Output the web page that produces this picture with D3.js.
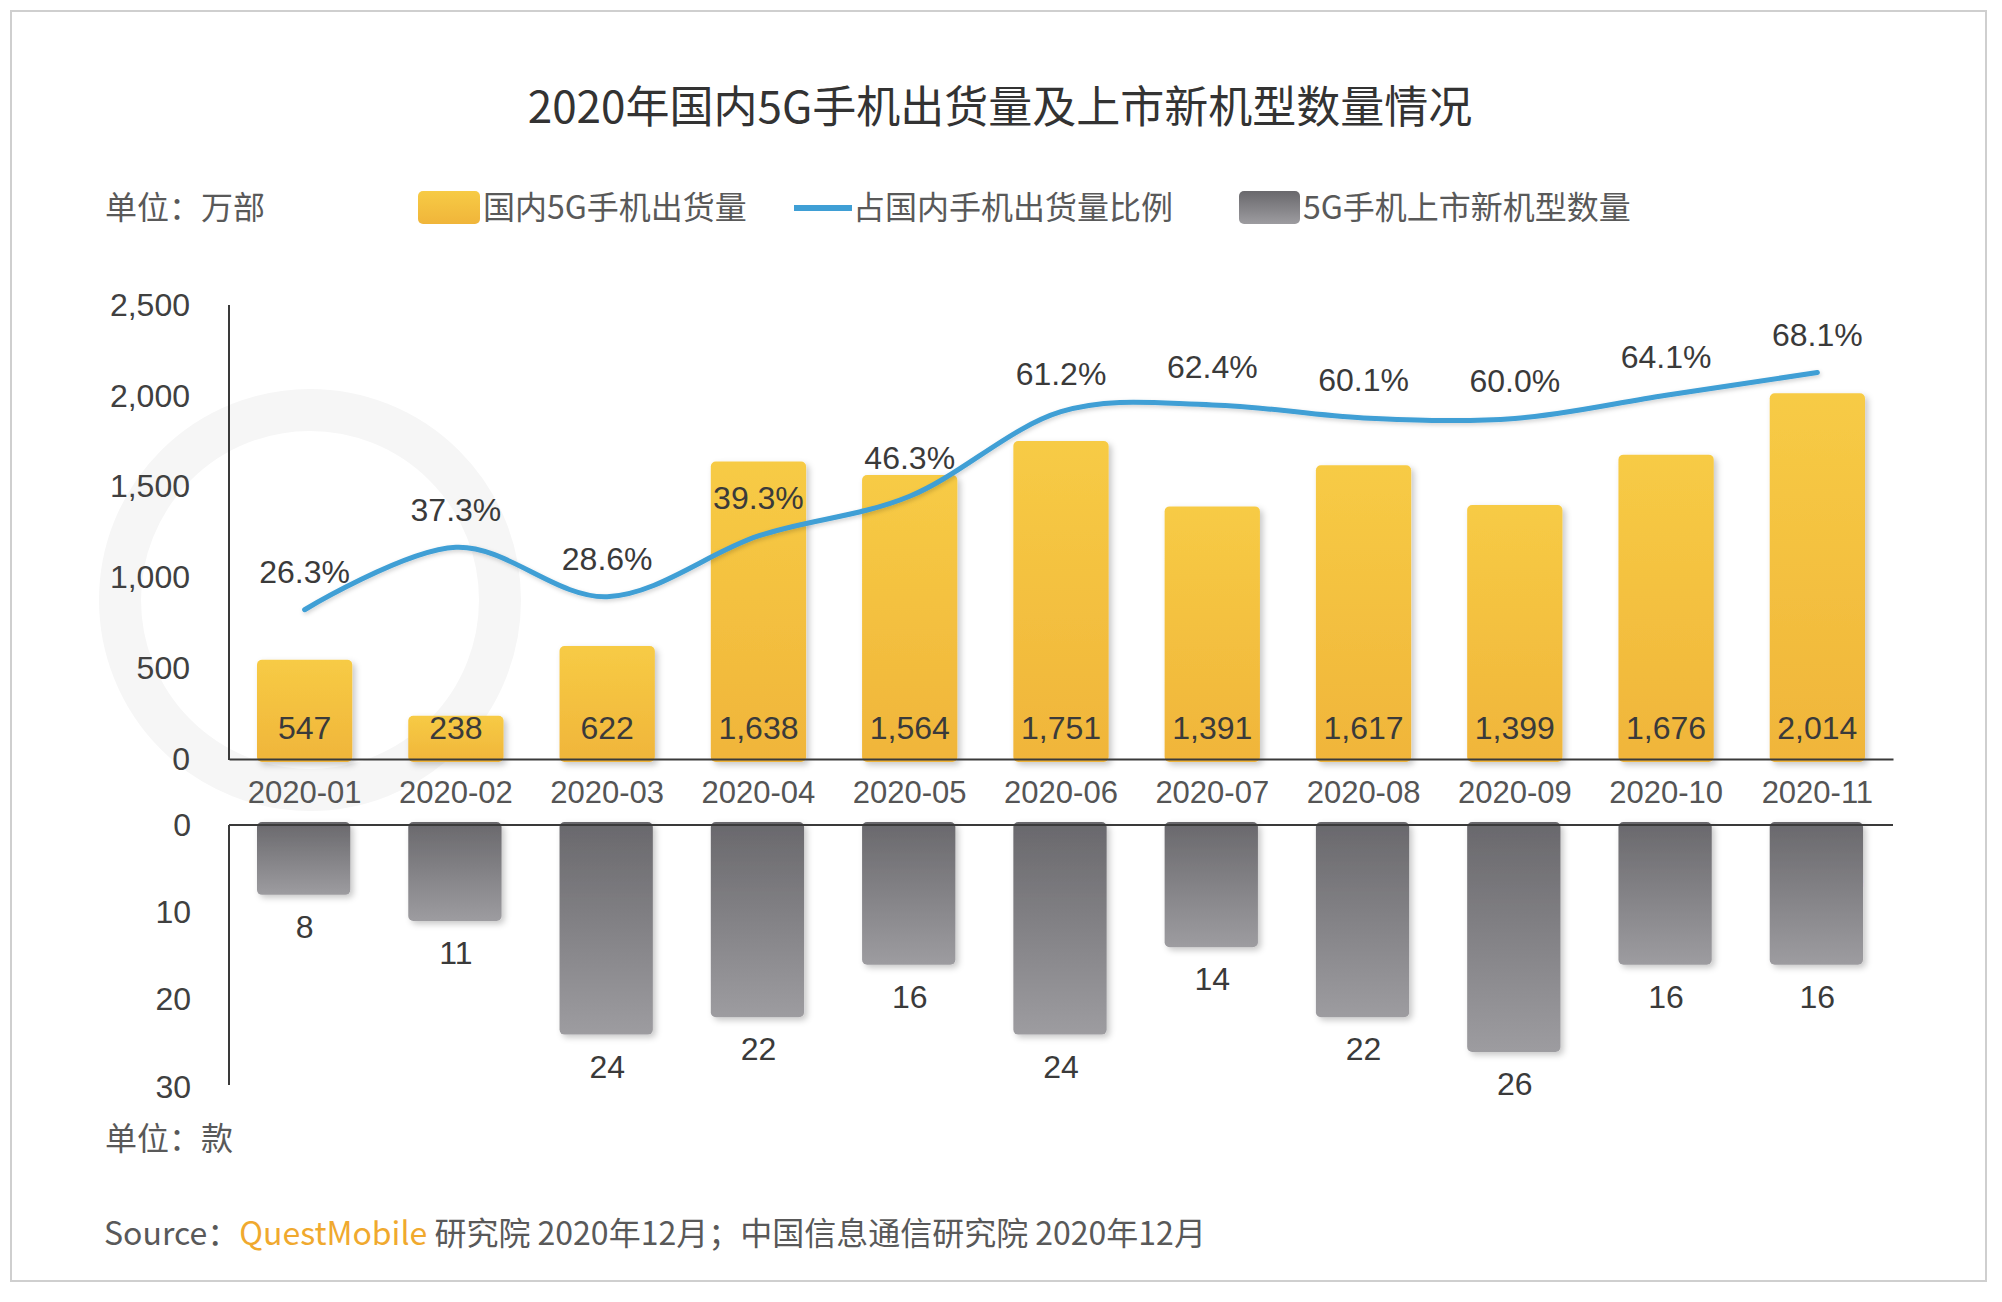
<!DOCTYPE html>
<html>
<head>
<meta charset="utf-8">
<script src="https://cdn.jsdelivr.net/npm/d3@7"></script>
<style>
  html, body { margin: 0; padding: 0; background: #ffffff; }
  svg { display: block; }
</style>
</head>
<body>
<script>
// ---------------- DATA ----------------
const categories = ["2020-01","2020-02","2020-03","2020-04","2020-05","2020-06","2020-07","2020-08","2020-09","2020-10","2020-11"];
const shipments  = [547, 238, 622, 1638, 1564, 1751, 1391, 1617, 1399, 1676, 2014];      // 万部
const shares     = [26.3, 37.3, 28.6, 39.3, 46.3, 61.2, 62.4, 60.1, 60.0, 64.1, 68.1];     // %
const newModels  = [8, 11, 24, 22, 16, 24, 14, 22, 26, 16, 16];                           // 款
const topTicks   = [0, 500, 1000, 1500, 2000, 2500];
const bottomTicks = [0, 10, 20, 30];

const titleText = "2020年国内5G手机出货量及上市新机型数量情况";
const unitTop = "单位：万部";
const unitBottom = "单位：款";
const legendLabels = ["国内5G手机出货量", "占国内手机出货量比例", "5G手机上市新机型数量"];

// ---------------- LAYOUT ----------------
const W = 2002, H = 1302;
const CJK = "'Noto Sans CJK SC', 'Noto Sans', sans-serif";
const NUM = "'Liberation Sans', Arial, sans-serif";

const svg = d3.select("body").append("svg").attr("width", W).attr("height", H);
const defs = svg.append("defs");

const gy = defs.append("linearGradient").attr("id", "gYellow").attr("x1", 0).attr("y1", 0).attr("x2", 0).attr("y2", 1);
gy.append("stop").attr("offset", "0%").attr("stop-color", "#f7cb45");
gy.append("stop").attr("offset", "100%").attr("stop-color", "#f0b53a");

const gg = defs.append("linearGradient").attr("id", "gGray").attr("x1", 0).attr("y1", 0).attr("x2", 0).attr("y2", 1);
gg.append("stop").attr("offset", "0%").attr("stop-color", "#69686c");
gg.append("stop").attr("offset", "100%").attr("stop-color", "#9d9ca0");

const sh = defs.append("filter").attr("id", "shadow").attr("x", "-20%").attr("y", "-20%").attr("width", "150%").attr("height", "150%");
sh.append("feDropShadow").attr("dx", 3).attr("dy", 3).attr("stdDeviation", 3).attr("flood-color", "#000").attr("flood-opacity", 0.22);

const lsh = defs.append("filter").attr("id", "lshadow").attr("x", "-5%").attr("y", "-20%").attr("width", "110%").attr("height", "150%");
lsh.append("feDropShadow").attr("dx", 1).attr("dy", 2).attr("stdDeviation", 2).attr("flood-color", "#000").attr("flood-opacity", 0.18);

// panel
svg.append("rect").attr("x", 11).attr("y", 11).attr("width", 1975).attr("height", 1270)
  .attr("fill", "#ffffff").attr("stroke", "#cfcfcf").attr("stroke-width", 2);

// faint watermark ring (logo)
svg.append("circle").attr("cx", 310).attr("cy", 600).attr("r", 190)
  .attr("fill", "none").attr("stroke", "#f6f6f6").attr("stroke-width", 42);

// title
svg.append("text").attr("x", 1000).attr("y", 123).attr("text-anchor", "middle")
  .attr("font-family", CJK).attr("font-size", 44).attr("fill", "#333333").text(titleText);

// legend row
const legY = 208;
svg.append("text").attr("x", 105).attr("y", legY + 11).attr("font-family", CJK).attr("font-size", 32)
  .attr("fill", "#595959").text(unitTop);

svg.append("rect").attr("x", 418).attr("y", 191).attr("width", 62).attr("height", 33).attr("rx", 5)
  .attr("fill", "url(#gYellow)");
svg.append("text").attr("x", 483).attr("y", legY + 11).attr("font-family", CJK).attr("font-size", 32)
  .attr("fill", "#595959").text(legendLabels[0]);

svg.append("line").attr("x1", 794).attr("x2", 852).attr("y1", legY).attr("y2", legY)
  .attr("stroke", "#3f9fd5").attr("stroke-width", 6);
svg.append("text").attr("x", 853).attr("y", legY + 11).attr("font-family", CJK).attr("font-size", 32)
  .attr("fill", "#595959").text(legendLabels[1]);

svg.append("rect").attr("x", 1239).attr("y", 191).attr("width", 61).attr("height", 33).attr("rx", 5)
  .attr("fill", "url(#gGray)");
svg.append("text").attr("x", 1303).attr("y", legY + 11).attr("font-family", CJK).attr("font-size", 32)
  .attr("fill", "#595959").text(legendLabels[2]);

// scales
const x = d3.scaleBand().domain(categories).range([229, 1893]).paddingInner(0.37).paddingOuter(0.185);
const yTop = d3.scaleLinear().domain([0, 2500]).range([759, 305]);
const yPct = d3.scaleLinear().domain([0, 80]).range([759, 305]);
const yBot = d3.scaleLinear().domain([0, 30]).range([825, 1087]);

// ---------- top chart ----------
const gTop = svg.append("g");

gTop.selectAll("rect.ship").data(shipments).join("rect").attr("class", "ship")
  .attr("x", (d, i) => x(categories[i]))
  .attr("y", d => yTop(d))
  .attr("width", x.bandwidth())
  .attr("height", d => yTop(0) - yTop(d) + 3)
  .attr("rx", 5)
  .attr("fill", "url(#gYellow)")
  .attr("filter", "url(#shadow)");

const axL = d3.axisLeft(yTop).tickValues(topTicks).tickFormat(d3.format(",")).tickSize(0).tickPadding(39);
const gAxL = gTop.append("g").attr("transform", "translate(229,0)").call(axL);
gAxL.select(".domain").remove();
gAxL.selectAll("text").attr("font-family", NUM).attr("font-size", 32).attr("fill", "#404040");
gTop.append("line").attr("x1", 229).attr("x2", 229).attr("y1", 305).attr("y2", 760)
  .attr("stroke", "#3a3a3a").attr("stroke-width", 2);

const axB = d3.axisBottom(x).tickSize(0).tickPadding(22);
const gAxB = gTop.append("g").attr("transform", "translate(0,759)").call(axB);
gAxB.select(".domain").attr("stroke", "#3a3a3a").attr("stroke-width", 2);
gAxB.selectAll("text").attr("font-family", NUM).attr("font-size", 31).attr("fill", "#555555");

gTop.selectAll("text.shipv").data(shipments).join("text").attr("class", "shipv")
  .attr("x", (d, i) => x(categories[i]) + x.bandwidth() / 2)
  .attr("y", yTop(0) - 31)
  .attr("dy", "0.35em")
  .attr("text-anchor", "middle")
  .attr("font-family", NUM).attr("font-size", 32).attr("fill", "#3a3a3a")
  .text(d => d3.format(",")(d));

const line = d3.line()
  .x((d, i) => x(categories[i]) + x.bandwidth() / 2)
  .y(d => yPct(d))
  .curve(d3.curveCardinal.tension(0));
gTop.append("path").datum(shares).attr("d", line)
  .attr("fill", "none").attr("stroke", "#3f9fd5").attr("stroke-width", 5)
  .attr("stroke-linecap", "round").attr("filter", "url(#lshadow)");

gTop.selectAll("text.pct").data(shares).join("text").attr("class", "pct")
  .attr("x", (d, i) => x(categories[i]) + x.bandwidth() / 2)
  .attr("y", d => yPct(d) - 38)
  .attr("dy", "0.35em")
  .attr("text-anchor", "middle")
  .attr("font-family", NUM).attr("font-size", 32).attr("fill", "#3a3a3a")
  .text(d => d.toFixed(1) + "%");

// ---------- bottom chart ----------
const gBot = svg.append("g");

gBot.selectAll("rect.models").data(newModels).join("rect").attr("class", "models")
  .attr("x", (d, i) => x(categories[i]))
  .attr("y", yBot(0) - 3)
  .attr("width", x.bandwidth() - 2)
  .attr("height", d => yBot(d) - yBot(0) + 3)
  .attr("rx", 5)
  .attr("fill", "url(#gGray)")
  .attr("filter", "url(#shadow)");

const axL2 = d3.axisLeft(yBot).tickValues(bottomTicks).tickSize(0).tickPadding(38);
const gAxL2 = gBot.append("g").attr("transform", "translate(229,0)").call(axL2);
gAxL2.select(".domain").remove();
gAxL2.selectAll("text").attr("font-family", NUM).attr("font-size", 32).attr("fill", "#404040");
gBot.append("line").attr("x1", 229).attr("x2", 229).attr("y1", 825).attr("y2", 1085)
  .attr("stroke", "#3a3a3a").attr("stroke-width", 2);
gBot.append("line").attr("x1", 229).attr("x2", 1893).attr("y1", 825).attr("y2", 825)
  .attr("stroke", "#3a3a3a").attr("stroke-width", 2);

gBot.selectAll("text.mv").data(newModels).join("text").attr("class", "mv")
  .attr("x", (d, i) => x(categories[i]) + x.bandwidth() / 2)
  .attr("y", d => yBot(d) + 32)
  .attr("dy", "0.35em")
  .attr("text-anchor", "middle")
  .attr("font-family", NUM).attr("font-size", 32).attr("fill", "#3a3a3a")
  .text(d => d);

svg.append("text").attr("x", 105).attr("y", 1150).attr("font-family", CJK).attr("font-size", 32)
  .attr("fill", "#595959").text(unitBottom);

// source
const src = svg.append("text").attr("x", 104).attr("y", 1245).attr("font-family", CJK).attr("font-size", 32)
  .attr("fill", "#595959");
src.append("tspan").text("Source：");
src.append("tspan").attr("fill", "#f0a92e").text("QuestMobile");
src.append("tspan").text(" 研究院 2020年12月；中国信息通信研究院 2020年12月");
</script>
</body>
</html>
